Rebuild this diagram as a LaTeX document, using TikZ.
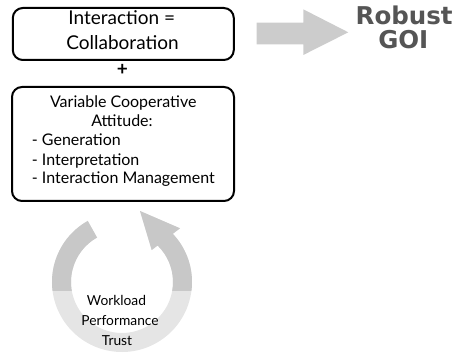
\documentclass[tikz,border=0pt]{standalone}
\usepackage{fontspec}
\setmainfont{Lato}
\newfontfamily\goifont{DejaVu Sans}
\definecolor{ringdark}{RGB}{200,200,200}
\definecolor{ringlight}{RGB}{229,229,229}
\definecolor{arrowgray}{RGB}{204,204,204}
\definecolor{goigray}{RGB}{85,85,85}
\begin{document}
\begin{tikzpicture}[x=1pt,y=-1pt,
  box/.style={draw=black, line width=2pt, rounded corners=10pt, inner sep=0pt},
  bigtxt/.style={anchor=base, inner sep=0pt, font=\fontsize{19}{22}\selectfont},
  midtxt/.style={anchor=base, inner sep=0pt, font=\fontsize{16}{19}\selectfont},
  listtxt/.style={anchor=base west, inner sep=0pt, font=\fontsize{16}{19}\selectfont},
  ringtxt/.style={anchor=base, inner sep=0pt, font=\fontsize{13.8}{17}\selectfont},
  goitxt/.style={anchor=base, inner sep=0pt, text=goigray, font=\goifont\bfseries\fontsize{24.5}{27}\selectfont}]
\useasboundingbox (0,0) rectangle (456,353);
% boxes
\node[box, minimum width=221pt, minimum height=52pt] (b1) at (123.3,34) {};
\node[box, minimum width=222pt, minimum height=114pt] (b2) at (123,144) {};
% box 1 text
\node[bigtxt] (t1) at (121.7,25) {Interaction =};
\node[bigtxt] (t2) at (122.5,49.3) {Collaboration};
\node[inner sep=0pt, font=\bfseries\fontsize{19}{20}\selectfont] (plus) at (122.5,70) {+};
% box 2 text
\node[midtxt] (v1) at (123.3,107.7) {Variable Cooperative};
\node[midtxt] (v2) at (122,126.7) {Attitude:};
\node[listtxt] (l1) at (31.7,146) {- Generation};
\node[listtxt] (l2) at (31.7,165) {- Interpretation};
\node[listtxt] (l3) at (31.7,183.3) {- Interaction Management};
% big arrow
\fill[arrowgray] (256.7,22.7) -- (303.3,22.7) -- (303.3,9.3) -- (348.3,32.3)
  -- (303.3,55) -- (303.3,44.3) -- (256.7,44.3) -- cycle;
% Robust GOI
\node[goitxt] (r1) at (404.2,25) {Robust};
\node[goitxt] (r2) at (403.3,48.3) {GOI};
% circular arrow
\begin{scope}[shift={(122,282)}, yscale=-1]
  \def\ringpath{(119.3:70) arc[start angle=119.3, end angle=403.5, radius=70]
    -- (58,53.7) -- (18,71) -- (29.7,32) -- (405.7:51)
    arc[start angle=405.7, end angle=119.3, radius=51] -- cycle}
  \fill[ringlight] \ringpath;
  \begin{scope}
    \clip (-100,-8) rectangle (100,100);
    \fill[ringdark] \ringpath;
  \end{scope}
\end{scope}
\node[ringtxt] (w1) at (116.5,305.7) {Workload};
\node[ringtxt] (w2) at (120,325.7) {Performance};
\node[ringtxt] (w3) at (117,345) {Trust};
\end{tikzpicture}
\end{document}
